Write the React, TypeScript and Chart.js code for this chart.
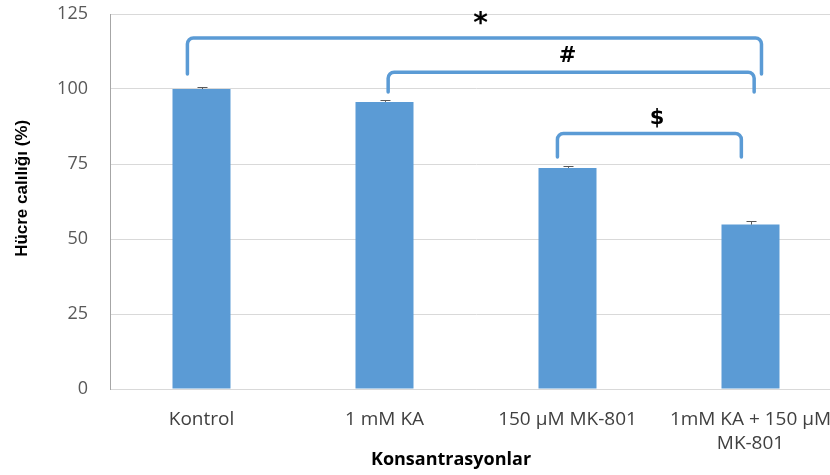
import React, { useEffect, useRef } from "react";
import { Chart, registerables } from "chart.js";

Chart.register(...registerables);

// ---- data ----
const categories: (string | string[])[] = [
  "Kontrol",
  "1 mM KA",
  "150 µM MK-801",
  ["1mM KA + 150 µM", "MK-801"],
];
const viability = [100, 95.7, 73.7, 54.8];
const errors = [0.8, 0.6, 0.6, 1.1];
const yTicks = [0, 25, 50, 75, 100, 125];

// significance brackets (category positions, value levels)
const bracketFrom = [-0.077, 1.02, 1.945];
const bracketTo = [3.06, 3.02, 2.95];
const bracketTop = [117, 105.6, 85.2];
const bracketBottom = [105, 99, 77.3];
const bracketSymbols = ["*", "#", "$"];
const symbolPos = [1.525, 2.0, 2.49];
const symbolLevel = [123, 110.7, 90.3];

const xTitle = "Konsantrasyonlar";
const yTitle = "Hücre calılığı (%)";

const BLUE = "#5B9BD5";

const overlayPlugin = {
  id: "overlay",
  afterDatasetsDraw(chart: any) {
    const { ctx, scales } = chart;
    const x = scales.x;
    const y = scales.y;
    ctx.save();
    // error bars (plus side)
    ctx.strokeStyle = "#595959";
    ctx.lineWidth = 1;
    viability.forEach((v, i) => {
      const px = Math.round(x.getPixelForValue(i)) + 0.5;
      const base = y.getPixelForValue(v);
      const top = Math.round(y.getPixelForValue(v + errors[i])) + 0.5;
      ctx.beginPath();
      ctx.moveTo(px, base);
      ctx.lineTo(px, top);
      ctx.moveTo(px - 5, top);
      ctx.lineTo(px + 5, top);
      ctx.stroke();
    });
    // brackets
    ctx.strokeStyle = BLUE;
    ctx.lineWidth = 3.5;
    ctx.lineCap = "round";
    ctx.lineJoin = "round";
    bracketFrom.forEach((f, i) => {
      const x1 = x.getPixelForValue(f);
      const x2 = x.getPixelForValue(bracketTo[i]);
      const yt = y.getPixelForValue(bracketTop[i]);
      const yb = y.getPixelForValue(bracketBottom[i]);
      ctx.beginPath();
      ctx.moveTo(x1, yb);
      ctx.arcTo(x1, yt, x2, yt, 6);
      ctx.arcTo(x2, yt, x2, yb, 6);
      ctx.lineTo(x2, yb);
      ctx.stroke();
    });
    // symbols
    ctx.fillStyle = "#000";
    ctx.textAlign = "center";
    ctx.textBaseline = "middle";
    bracketSymbols.forEach((s, i) => {
      ctx.font = s === "*" ? "bold 28px 'DejaVu Sans'" : "bold 21px 'DejaVu Sans'";
      const px = x.getPixelForValue(symbolPos[i]);
      const py = y.getPixelForValue(symbolLevel[i]) + (s === "*" ? 5 : 0);
      ctx.fillText(s, px, py);
    });
    ctx.restore();
  },
  afterDraw(chart: any) {
    const { ctx, chartArea } = chart;
    ctx.save();
    ctx.fillStyle = "#000";
    ctx.textAlign = "center";
    ctx.textBaseline = "middle";
    ctx.font = "bold 18px 'Open Sans'";
    ctx.fillText(xTitle, chart.width / 2, chart.height - 15);
    ctx.translate(22, chartArea.top + (chartArea.bottom - chartArea.top) * 0.465);
    ctx.rotate(-Math.PI / 2);
    ctx.font = "bold 17px 'Liberation Sans'";
    ctx.fillText(yTitle, 0, 0);
    ctx.restore();
  },
};

export default function App() {
  const ref = useRef<HTMLCanvasElement | null>(null);
  useEffect(() => {
    document.body.style.margin = "0";
    if (!ref.current) return;
    const chart = new Chart(ref.current, {
      type: "bar",
      data: {
        labels: categories as any,
        datasets: [
          {
            data: viability,
            backgroundColor: BLUE,
            borderWidth: 0,
            barPercentage: 0.317,
            categoryPercentage: 1,
          },
        ],
      },
      options: {
        responsive: false,
        animation: false,
        devicePixelRatio: 1,
        layout: { padding: { top: 14, right: 60, left: 0, bottom: 0 } },
        plugins: {
          legend: { display: false },
          tooltip: { enabled: false },
        },
        scales: {
          x: {
            grid: { display: false, drawTicks: false },
            border: { display: true, color: "#d9d9d9", width: 1 },
            ticks: {
              autoSkip: false,
              maxRotation: 0,
              minRotation: 0,
              padding: 19,
              color: "#404040",
              font: { family: "'Open Sans'", size: 19, lineHeight: 1.25 },
            },
            afterFit(scale: any) {
              scale.height = 86;
              scale.paddingLeft = 0;
              scale.paddingRight = 0;
            },
          },
          y: {
            min: 0,
            max: 125,
            afterBuildTicks(scale: any) {
              scale.ticks = yTicks.map((v) => ({ value: v }));
            },
            grid: { color: "#d9d9d9", lineWidth: 1, drawTicks: false },
            border: { display: true, color: "#a6a6a6", width: 1 },
            ticks: {
              padding: 22,
              color: "#595959",
              font: { family: "'Open Sans'", size: 18 },
            },
            afterFit(scale: any) {
              scale.width = 110;
              scale.paddingTop = 0;
              scale.paddingBottom = 0;
            },
          },
        },
      },
      plugins: [overlayPlugin],
    });
    return () => chart.destroy();
  }, []);
  return (
    <div style={{ width: 830, height: 475, overflow: "hidden", background: "#fff" }}>
      <canvas ref={ref} width={902} height={475} style={{ display: "block" }} />
    </div>
  );
}
